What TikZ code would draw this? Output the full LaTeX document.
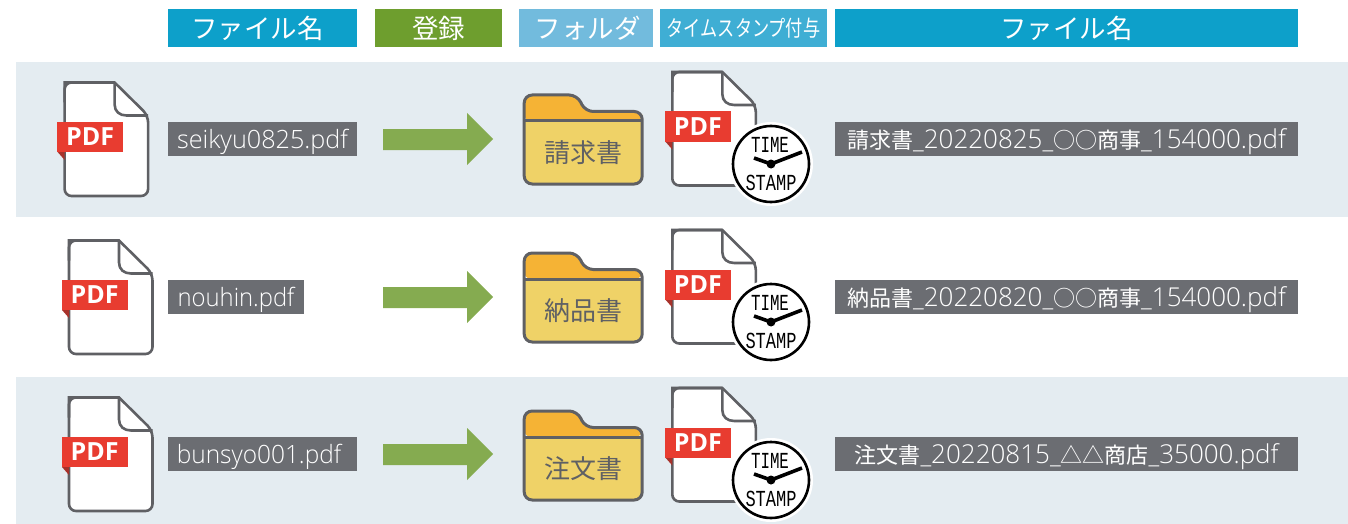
\documentclass[tikz,border=0pt]{standalone}
\usepackage{fontspec}
\setmainfont{Open Sans Light}
\newfontfamily\pdffont{Open Sans}
\newfontfamily\cjk{Noto Sans CJK JP}
\newfontfamily\lcd{Liberation Mono}
\newcommand\cj[1]{{\cjk\fontsize{22}{24}\selectfont #1}}
\definecolor{band}{HTML}{E4ECF1}
\definecolor{hblue}{HTML}{0DA0CA}
\definecolor{hgreen}{HTML}{6E9E2E}
\definecolor{hsky}{HTML}{72BBDD}
\definecolor{hmid}{HTML}{3FAED4}
\definecolor{lab}{HTML}{6B6D72}
\definecolor{edge}{HTML}{5F6064}
\definecolor{tagred}{HTML}{E83C30}
\definecolor{tagdark}{HTML}{A8322B}
\definecolor{arrowgreen}{HTML}{85AB50}
\definecolor{ftop}{HTML}{F5B335}
\definecolor{fbody}{HTML}{EFD267}
\tikzset{
  x=1pt,y=-1pt,
  headbox/.style={fill=#1,text=white,inner sep=0pt,minimum height=38pt,font=\cjk\fontsize{26.5}{27}\selectfont},
  labelbox/.style={fill=lab,text=white,inner sep=0pt,minimum height=34pt,text height=22pt,text depth=4pt,font=\fontsize{25.2}{26}\selectfont},
  longbox/.style={labelbox,minimum width=463pt,font=\fontsize{26}{26}\selectfont},
  foldertext/.style={font=\cjk\fontsize{26}{26}\selectfont,text=edge,inner sep=0pt},
  bandbox/.style={fill=band,draw=none},
  pdftag/.style={fill=tagred,text=white,inner sep=0pt,minimum width=66pt,minimum height=30pt,font=\pdffont\bfseries\fontsize{25}{25}\selectfont},
  flow/.style={fill=arrowgreen,draw=none},
  doc/.pic={
    \draw[edge,line width=2.6pt,fill=white,rounded corners=7pt] (0,0) -- (0,113.5) -- (83.5,113.5) -- (83.5,33) [sharp corners] -- (50,0) -- cycle;
    \draw[edge,line width=2.6pt,line join=round] (50,0) -- (50,22) .. controls (50,29) and (55,33) .. (62,33) -- (83.5,33);
    \draw[edge,line width=2.6pt,rounded corners=7pt] (50,0) -- (0,0) -- (0,20);
    \fill[tagdark] (-7,69.5) -- (0,69.5) -- (0,77.5) -- cycle;
    \node[pdftag] (-tag) at (25.6,54.5) {PDF};
  },
  folder/.pic={
    \fill[fbody,rounded corners=8pt] (0,26) -- (0,89) -- (118,89) -- (118,26) -- cycle;
    \fill[ftop,rounded corners=7pt] (0,26) -- (0,0) -- (53,0) -- (61,16.5) -- (118,16.5) -- (118,26) -- cycle;
    \fill[fbody] (0,26) rectangle (118,60);
    \draw[edge,line width=3pt,rounded corners=8pt] (0,50) -- (0,0) -- (53,0) -- (61,16.5) -- (118,16.5) -- (118,89) -- (0,89) -- cycle;
    \draw[edge,line width=3pt] (0,26) -- (118,26);
  },
  stampclock/.pic={
    \fill[white] (0,0) circle (42);
    \draw[black,line width=2.6pt,fill=white] (0,0) circle (38);
    \node[font=\lcd\fontsize{17}{17}\selectfont,inner sep=0pt] (-time) at (-1,-19.5) {\scalebox{.93}[1.35]{TIME}};
    \node[font=\lcd\fontsize{17}{17}\selectfont,inner sep=0pt] (-stamp) at (0,18.5) {\scalebox{1}[1.35]{STAMP}};
    \draw[black,line width=3.6pt] (0,0) -- (31,-12);
    \draw[black,line width=3.6pt] (0,0) -- (-17,-6);
    \fill[black] (0,0) circle (4.5);
  }
}
\begin{document}
\begin{tikzpicture}
\useasboundingbox (0,0) rectangle (1348,524);
\path[bandbox] (16,62) rectangle (1348,217);
\path[bandbox] (16,377) rectangle (1348,524);

\node[headbox=hblue,minimum width=189pt] (h1) at (262.5,28) {\hspace*{-10pt}ファイル名};
\node[headbox=hgreen,minimum width=127pt] (h2) at (438.5,28) {登録};
\node[headbox=hsky,minimum width=134pt] (h3) at (586,28) {\hspace*{3pt}フォルダ};
\node[headbox=hmid,minimum width=167pt] (h4) at (743.5,28) {\fontsize{22}{22}\selectfont\scalebox{.78}[1]{タイムスタンプ付与}};
\node[headbox=hblue,minimum width=463pt] (h5) at (1066.5,28) {ファイル名};

% row 1
\pic (da) at (64.6,82.5) {doc};
\node[labelbox,minimum width=189pt] (la) at (262.5,139) {seikyu0825.pdf};
\fill[flow] (383,129) -- (467,129) -- (467,113) -- (493,139) -- (467,165) -- (467,150) -- (383,150) -- cycle;
\pic (fa) at (524.2,95) {folder};
\node[foldertext] (fta) at (583.5,153) {請求書};
\pic (sa) at (672.3,72) {doc};
\pic (ca) at (771,164) {stampclock};
\node[longbox] (ra) at (1066.5,139) {\cj{請求書}\_20220825\_\cj{○○商事}\_154000.pdf};

% row 2
\pic (db) at (69,240.5) {doc};
\node[labelbox,minimum width=136pt] (lb) at (236,297) {\scalebox{.945}[1]{nouhin.pdf}};
\fill[flow] (383,287) -- (467,287) -- (467,271) -- (493,297) -- (467,323) -- (467,308) -- (383,308) -- cycle;
\pic (fb) at (524.2,253) {folder};
\node[foldertext] (ftb) at (583.5,311) {納品書};
\pic (sb) at (672.3,230) {doc};
\pic (cb) at (771,322) {stampclock};
\node[longbox] (rb) at (1066.5,297) {\cj{納品書}\_20220820\_\cj{○○商事}\_154000.pdf};

% row 3
\pic (dc) at (69,397.5) {doc};
\node[labelbox,minimum width=189pt] (lc) at (262.5,454) {\hspace*{-7pt}\scalebox{.97}[1]{bunsyo001.pdf}};
\fill[flow] (383,444) -- (467,444) -- (467,428) -- (493,454) -- (467,480) -- (467,465) -- (383,465) -- cycle;
\pic (fc) at (524.2,411) {folder};
\node[foldertext] (ftc) at (583.5,469) {注文書};
\pic (sc) at (672.3,388) {doc};
\pic (cc) at (771,480) {stampclock};
\node[longbox] (rc) at (1066.5,454) {\cj{注文書}\_20220815\_\cj{△△商店}\_35000.pdf};
\end{tikzpicture}
\end{document}
